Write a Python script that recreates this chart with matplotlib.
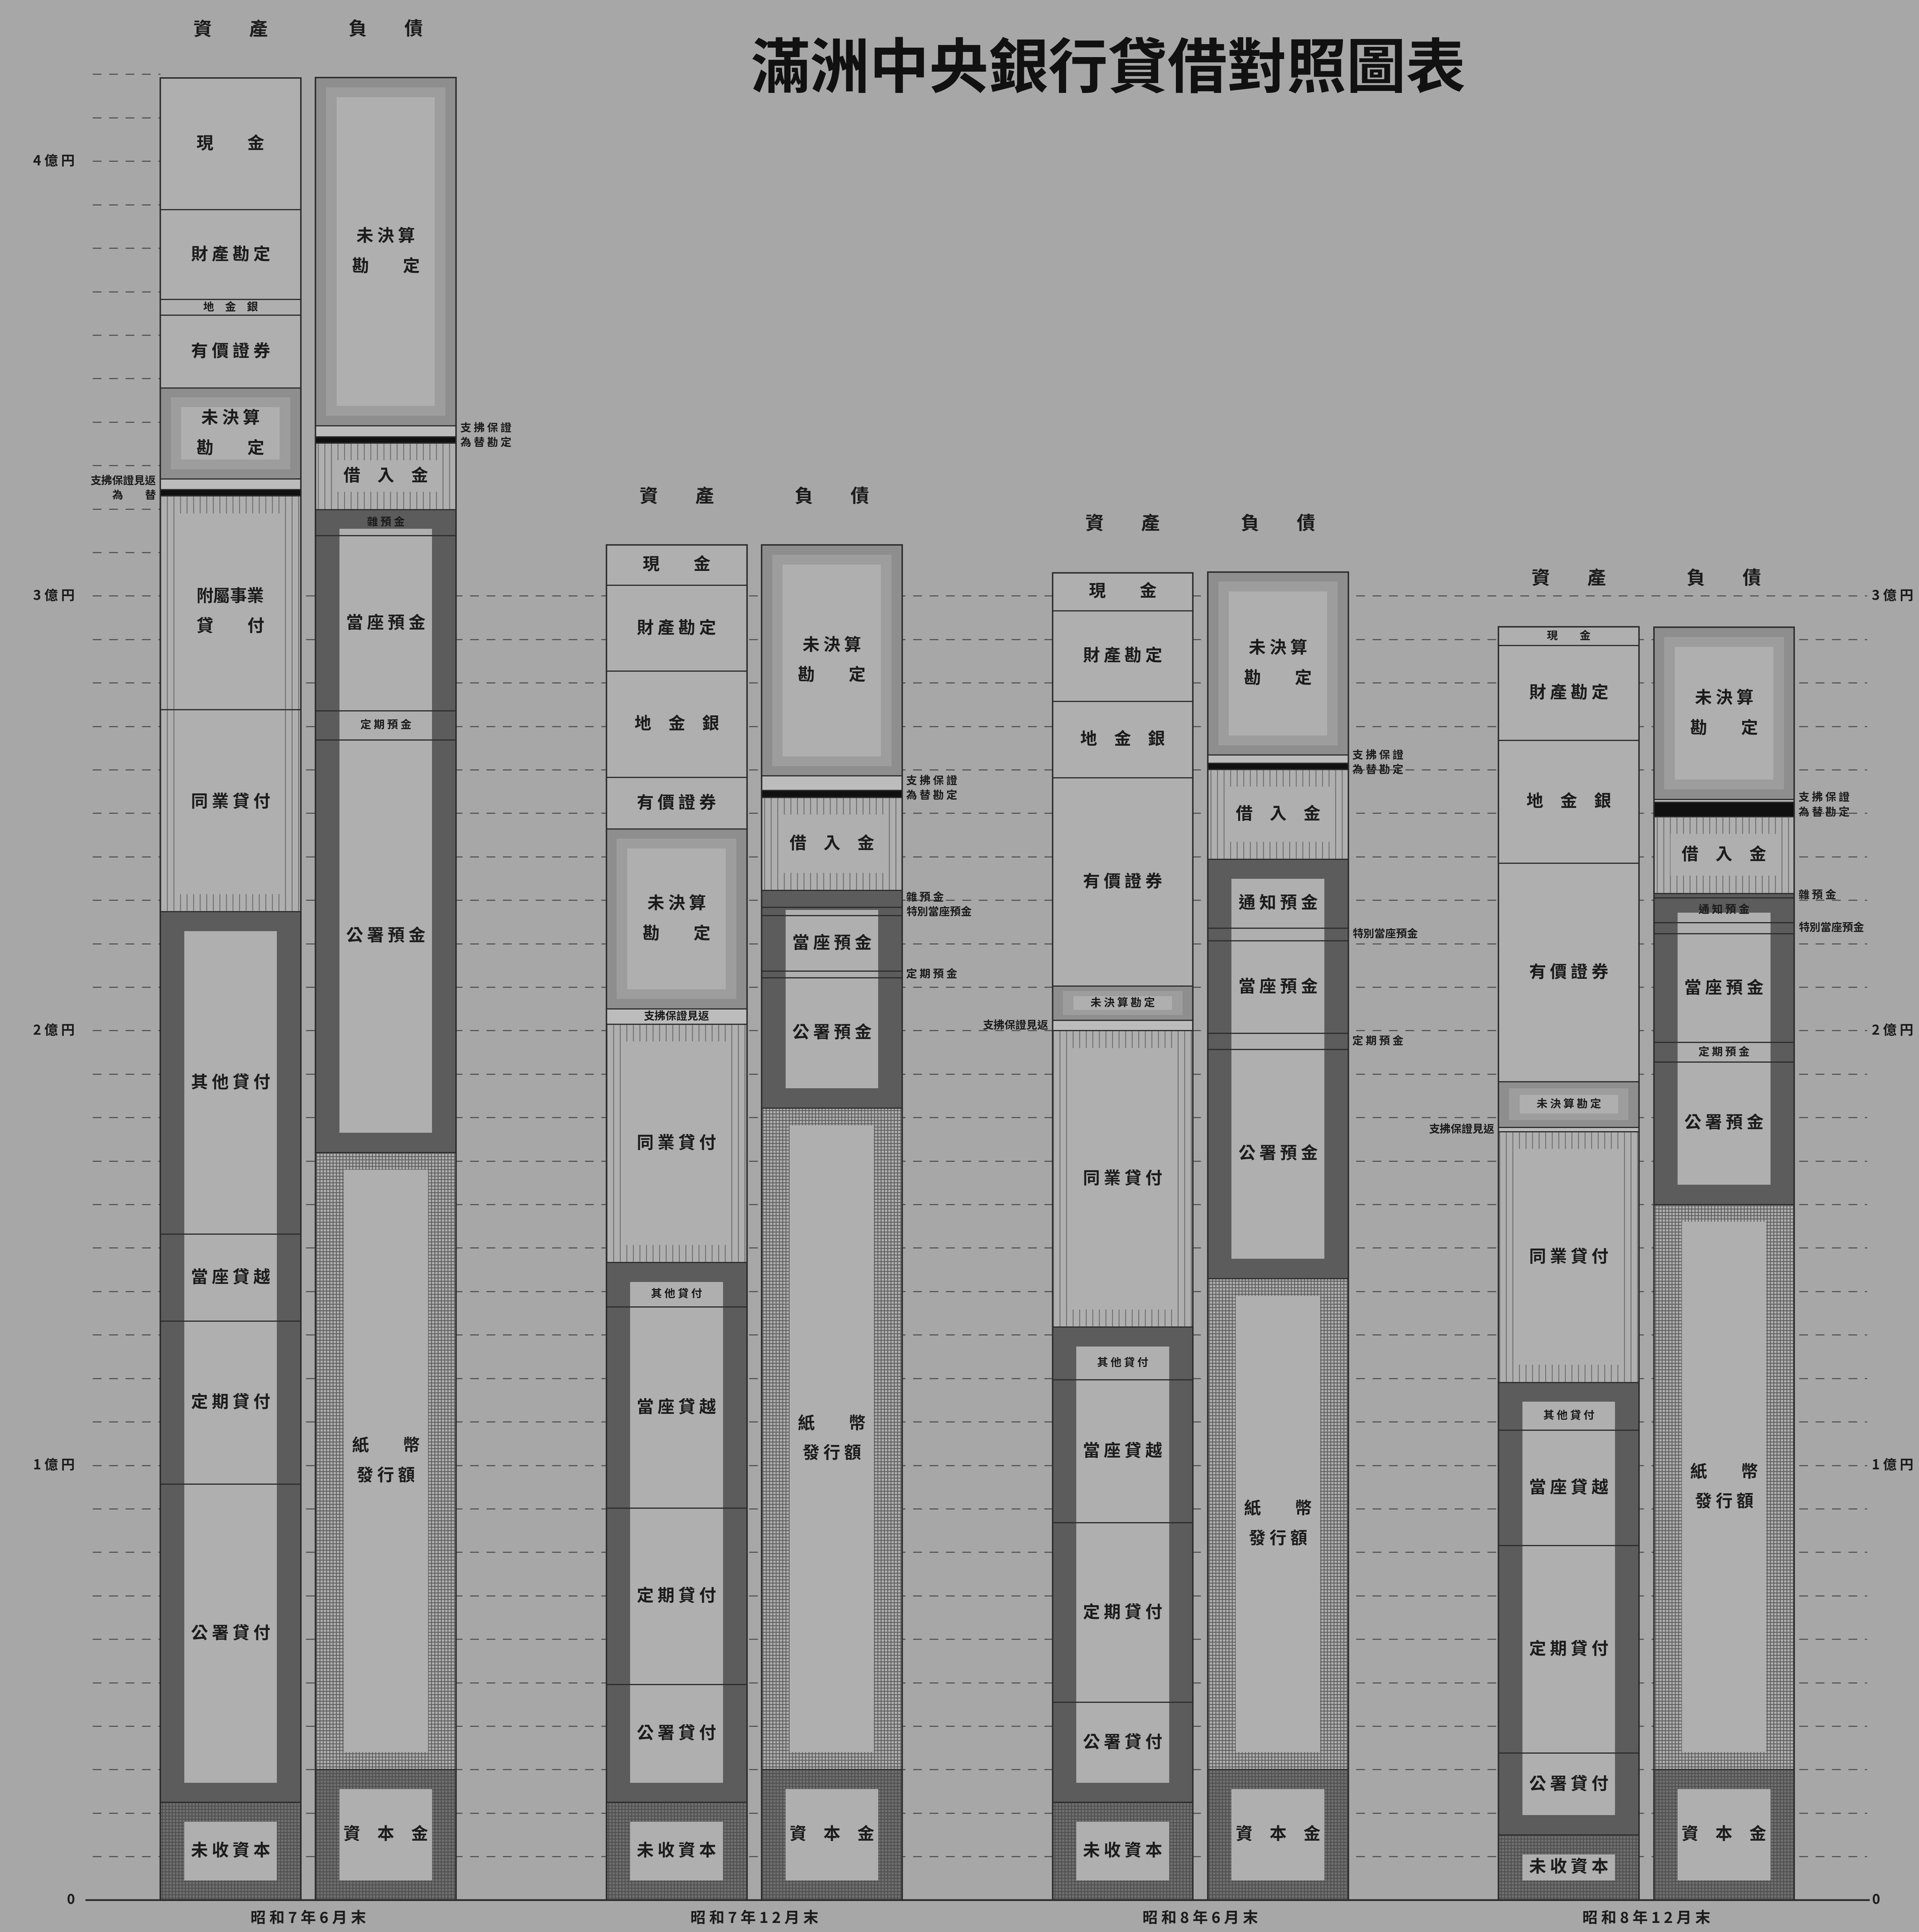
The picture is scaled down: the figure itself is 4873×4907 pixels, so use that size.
import numpy as np
import matplotlib
matplotlib.use('Agg')
import matplotlib.pyplot as plt

plt.rcParams['font.family'] = ['Noto Sans CJK TC', 'DejaVu Sans']
plt.rcParams['hatch.linewidth'] = 1.6

# ---------------- data (unit: 億円) ----------------
TITLE = '滿洲中央銀行貸借對照圖表'
PERIODS = ['昭和7年6月末', '昭和7年12月末', '昭和8年6月末', '昭和8年12月末']
HEADERS = ['資　　產', '負　　債']

ASSET_ITEMS = ['現金', '財產勘定', '地金銀', '有價證券', '未決算勘定', '支拂保證見返', '為替',
               '附屬事業貸付', '同業貸付', '其他貸付', '當座貸越', '定期貸付', '公署貸付', '未收資本']
ASSETS_S7_06 = [0.302, 0.207, 0.036, 0.167, 0.210, 0.024, 0.015, 0.491, 0.465, 0.742, 0.200, 0.375, 0.732, 0.225]
ASSETS_S7_12 = [0.092, 0.198, 0.244, 0.119, 0.414, 0.035, 0.0, 0.0, 0.548, 0.102, 0.463, 0.406, 0.271, 0.225]
ASSETS_S8_06 = [0.087, 0.208, 0.176, 0.479, 0.079, 0.024, 0.0, 0.0, 0.682, 0.121, 0.329, 0.413, 0.230, 0.225]
ASSETS_S8_12 = [0.043, 0.218, 0.283, 0.502, 0.105, 0.010, 0.0, 0.0, 0.577, 0.110, 0.265, 0.478, 0.188, 0.150]

LIAB_ITEMS = ['未決算勘定', '支拂保證', '為替勘定', '借入金', '雜預金', '通知預金', '特別當座預金',
              '當座預金', '定期預金', '公署預金', '紙幣發行額', '資本金']
LIABS_S7_06 = [0.800, 0.026, 0.014, 0.153, 0.060, 0.0, 0.0, 0.403, 0.067, 0.949, 1.420, 0.300]
LIABS_S7_12 = [0.531, 0.033, 0.016, 0.214, 0.039, 0.0, 0.019, 0.128, 0.015, 0.300, 1.522, 0.300]
LIABS_S8_06 = [0.421, 0.019, 0.014, 0.207, 0.0, 0.158, 0.029, 0.213, 0.037, 0.527, 1.130, 0.300]
LIABS_S8_12 = [0.396, 0.006, 0.034, 0.176, 0.010, 0.057, 0.026, 0.250, 0.045, 0.328, 1.300, 0.300]

Y_TICKS_LEFT = [0, 1, 2, 3, 4]
Y_TICKS_RIGHT = [0, 1, 2, 3]
Y_TICK_LABELS = ['0', '1 億 円', '2 億 円', '3 億 円', '4 億 円']

ASSETS = [ASSETS_S7_06, ASSETS_S7_12, ASSETS_S8_06, ASSETS_S8_12]
LIABS = [LIABS_S7_06, LIABS_S7_12, LIABS_S8_06, LIABS_S8_12]

# ---------------- styles ----------------
ASSET_FRAMES = ['plain'] * 4 + ['fade', 'white', 'black', 'vhatch', 'vhatch',
                                'dark', 'dark', 'dark', 'dark', 'capital']
LIAB_FRAMES = ['fade', 'white', 'black', 'vhatch', 'dark', 'dark', 'dark', 'dark', 'dark', 'dark',
               'grid', 'capital']

BG = '#a7a7a7'
INTERIOR = '#afafaf'
LIGHT = '#bcbcbc'
DARK = '#5c5c5c'
INK = '#1c1c1c'
BAR_W = 1.0
PAIR_OFF = 0.5525
GROUP_STEP = 3.175
INSETS = {'dark': (0.17, 0.045), 'fade': (0.15, 0.045), 'vhatch': (0.12, 0.04),
          'grid': (0.2, 0.04), 'capital': (0.17, 0.045)}


def spaced(s):
    return ' '.join(s)


def display(item, h):
    special = {'現金': '現　　金', '地金銀': '地　金　銀', '借入金': '借　入　金',
               '資本金': '資　本　金', '紙幣發行額': '紙　　幣\n發 行 額',
               '附屬事業貸付': '附屬事業\n貸　　付', '為替': '為　　替', '雜預金': '雜 預 金'}
    if item == '未決算勘定':
        return '未 決 算\n勘　　定' if h > 0.18 else spaced(item)
    if item in special:
        return special[item]
    if len(item) <= 4:
        return spaced(item)
    return item


def label_size(item, h):
    if item == '未決算勘定' and h < 0.15:
        return 20
    return 31 if h >= 0.08 else 20


def frame(ax, xc, y0, y1, kind):
    h = y1 - y0
    if kind == 'plain':
        ax.bar(xc, h, BAR_W, y0, color=INTERIOR, lw=0, zorder=2)
        return 0.0
    if kind == 'white':
        ax.bar(xc, h, BAR_W, y0, color=LIGHT, lw=0, zorder=2)
        return 0.0
    if kind == 'black':
        ax.bar(xc, h, BAR_W, y0, color='#101010', lw=0, zorder=2)
        return 0.0
    bx, by = INSETS[kind]
    by = min(by, h * 0.3)
    if kind == 'dark':
        ax.bar(xc, h, BAR_W, y0, color=DARK, lw=0, zorder=2)
    elif kind == 'fade':
        ax.bar(xc, h, BAR_W, y0, color='#8e8e8e', lw=0, zorder=2)
        ax.bar(xc, h - by, BAR_W - bx, y0 + by / 2, color='#9d9d9d', lw=0, zorder=2)
    elif kind == 'vhatch':
        ax.bar(xc, h, BAR_W, y0, facecolor=INTERIOR, edgecolor='#6e6e6e', hatch='|', lw=0, zorder=2)
    elif kind == 'grid':
        ax.bar(xc, h, BAR_W, y0, facecolor=INTERIOR, edgecolor='#5e5e5e', hatch='++', lw=0, zorder=2)
    elif kind == 'capital':
        ax.bar(xc, h, BAR_W, y0, facecolor='#707070', edgecolor='#4e4e4e', hatch='++', lw=0, zorder=2)
    ax.bar(xc, h - 2 * by, BAR_W - 2 * bx, y0 + by, color=INTERIOR, lw=0, zorder=2.5)
    return by


def draw_bar(ax, xc, items, values, frames, side):
    vals = np.asarray(values, dtype=float)
    total = vals.sum()
    tops = total - np.concatenate([[0.0], np.cumsum(vals)[:-1]])
    bottoms = tops - vals
    idx = [i for i in range(len(vals)) if vals[i] > 0]
    groups = []
    for i in idx:
        if groups and frames[groups[-1][-1]] == frames[i]:
            groups[-1].append(i)
        else:
            groups.append([i])
    eff_top = dict((i, tops[i]) for i in idx)
    eff_bot = dict((i, bottoms[i]) for i in idx)
    for g in groups:
        by = frame(ax, xc, bottoms[g[-1]], tops[g[0]], frames[g[0]])
        if len(g) > 1 and by > 0:
            if vals[g[0]] > 2 * by:
                eff_top[g[0]] = tops[g[0]] - by
            if vals[g[-1]] > 2 * by:
                eff_bot[g[-1]] = bottoms[g[-1]] + by
    for a, b in zip(idx[:-1], idx[1:]):
        ax.hlines(bottoms[a], xc - BAR_W / 2, xc + BAR_W / 2, color='#2e2e2e', lw=2.2, zorder=4)
    ax.bar(xc, total, BAR_W, 0, fill=False, edgecolor='#2a2a2a', lw=2.6, zorder=5)
    thresh = 0.03 if side == 'left' else 0.04
    outside = []
    for i in idx:
        h = vals[i]
        mid = (tops[i] + bottoms[i]) / 2
        if h >= thresh:
            he = eff_top[i] - eff_bot[i]
            ym = (eff_top[i] + eff_bot[i]) / 2
            ax.text(xc, ym, display(items[i], h), ha='center', va='center',
                    fontsize=label_size(items[i], he), color=INK, fontweight='bold',
                    linespacing=1.9, zorder=6)
        else:
            outside.append([mid, display(items[i], h)])
    sp = 0.034
    clusters = []
    for lab in outside:
        if clusters and clusters[-1][-1][0] - lab[0] < sp:
            clusters[-1].append(lab)
        else:
            clusters.append([lab])
    for c in clusters:
        m = np.mean([l[0] for l in c])
        n = len(c)
        for k, lab in enumerate(c):
            y = m + sp * ((n - 1) / 2 - k)
            if side == 'left':
                ax.text(xc - BAR_W / 2 - 0.03, y, lab[1], ha='right', va='center', fontsize=20,
                        color=INK, fontweight='bold', zorder=6)
            else:
                ax.text(xc + BAR_W / 2 + 0.03, y, lab[1], ha='left', va='center', fontsize=20,
                        color=INK, fontweight='bold', zorder=6)
    return total


fig = plt.figure(figsize=(48.73, 49.07), dpi=100)
fig.patch.set_facecolor(BG)
ax = fig.add_axes([0, 0, 1, 1])
ax.set_facecolor(BG)
ax.set_xlim(-2.193, 11.465)
ax.set_ylim(-0.0737, 4.3707)
ax.axis('off')

x_left, x_right = -1.535, 11.096
first_left = -PAIR_OFF - BAR_W / 2

for v in np.round(np.arange(1, 43) * 0.1, 1):
    xr = x_right if v <= 3.0 + 1e-9 else first_left
    ax.hlines(v, x_left, xr, color='#525252', lw=2.0, linestyle=(0, (8, 7)), zorder=1)
ax.hlines(0, x_left - 0.05, x_right + 0.02, color='#2a2a2a', lw=3.2, zorder=5)

for v in Y_TICKS_LEFT:
    ax.text(-1.66, v, Y_TICK_LABELS[v], ha='right', va='center', fontsize=25, color=INK,
            fontweight='bold')
for v in Y_TICKS_RIGHT:
    ax.text(11.13, v, Y_TICK_LABELS[v], ha='left', va='center', fontsize=25, color=INK,
            fontweight='bold')

for g in range(len(PERIODS)):
    gc = g * GROUP_STEP
    ta = draw_bar(ax, gc - PAIR_OFF, ASSET_ITEMS, ASSETS[g], ASSET_FRAMES, 'left')
    tl = draw_bar(ax, gc + PAIR_OFF, LIAB_ITEMS, LIABS[g], LIAB_FRAMES, 'right')
    top = max(ta, tl)
    ax.text(gc - PAIR_OFF, top + 0.11, HEADERS[0], ha='center', va='center', fontsize=34,
            color=INK, fontweight='bold')
    ax.text(gc + PAIR_OFF, top + 0.11, HEADERS[1], ha='center', va='center', fontsize=34,
            color=INK, fontweight='bold')
    ax.text(gc, -0.042, spaced(PERIODS[g]), ha='center', va='center', fontsize=28,
            color=INK, fontweight='bold')

fig.text(0.5775, 0.9633, TITLE, ha='center', va='center', fontsize=109, fontweight='bold',
         color='#111111')

fig.savefig('out.png', dpi=100, facecolor=BG)
